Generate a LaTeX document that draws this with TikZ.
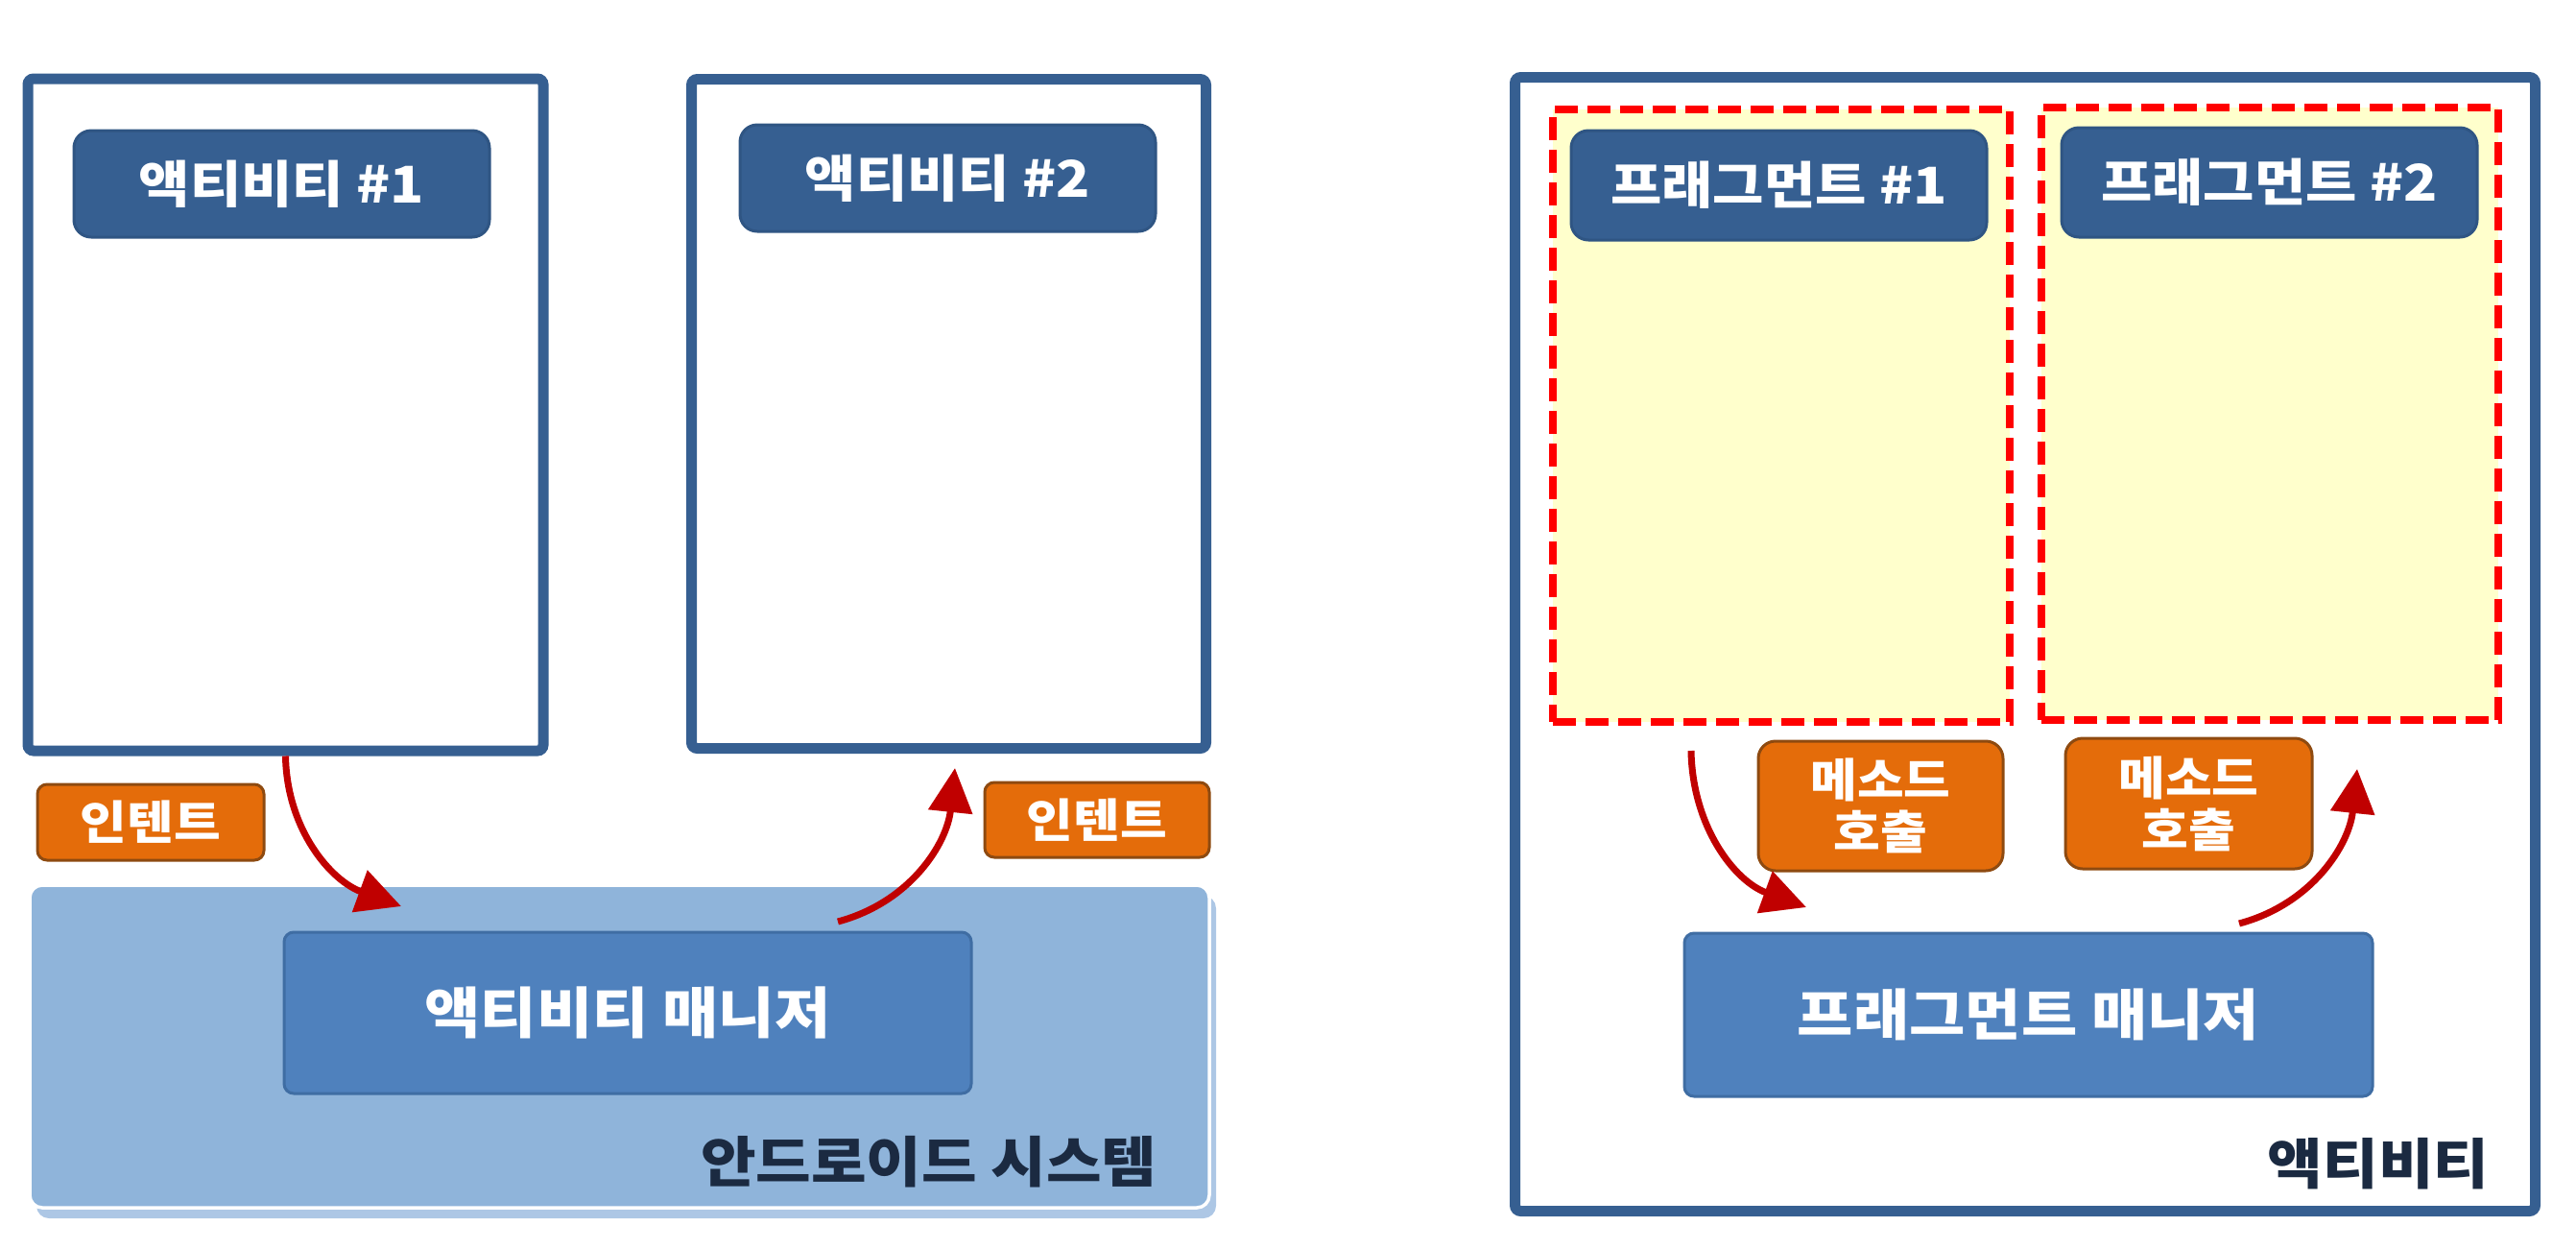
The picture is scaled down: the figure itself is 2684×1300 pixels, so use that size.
\documentclass[tikz,border=0pt]{standalone}
\usepackage{fontspec}
\newfontfamily\krfont[FakeStretch=1.1]{Noto Sans CJK KR}
\usetikzlibrary{arrows.meta,shadows}
\definecolor{boxblue}{HTML}{365F91}
\definecolor{labline}{HTML}{2F5583}
\definecolor{sysblue}{HTML}{8FB4DA}
\definecolor{sysshade}{HTML}{ADC7E5}
\definecolor{mgrblue}{HTML}{4F81BD}
\definecolor{mgrline}{HTML}{3F6DA3}
\definecolor{tagorange}{HTML}{E46C0A}
\definecolor{tagline}{HTML}{8E4A10}
\definecolor{arrred}{HTML}{C00000}
\definecolor{fragfill}{HTML}{FFFFCC}
\definecolor{navytext}{HTML}{1B2A41}

\begin{document}
\begin{tikzpicture}[x=0.1mm,y=-0.1mm,
  every node/.style={font=\krfont\bfseries},
  actbox/.style={draw=boxblue,line width=1.1mm,rounded corners=0.6mm,inner sep=0pt},
  namebox/.style={fill=boxblue,draw=labline,line width=0.3mm,rounded corners=1.8mm,text=white,
    minimum width=43.3mm,minimum height=11.1mm,font=\krfont\bfseries\fontsize{15pt}{18pt}\selectfont},
  fragbox/.style={fill=fragfill,draw=red,line width=0.8mm,dash pattern=on 2.4mm off 1mm,
    minimum width=47.6mm,minimum height=63.8mm,inner sep=0pt},
  mgrbox/.style={fill=mgrblue,draw=mgrline,line width=0.3mm,rounded corners=1mm,text=white,
    minimum width=71.6mm,minimum height=16.8mm,font=\krfont\bfseries\fontsize{16.4pt}{19pt}\selectfont},
  tagbox/.style={fill=tagorange,draw=tagline,line width=0.3mm,rounded corners=1mm,text=white,
    align=center,font=\krfont\bfseries\fontsize{13.7pt}{15.4pt}\selectfont},
  sysbox/.style={fill=sysblue,draw=white,line width=0.35mm,rounded corners=1.3mm,
    drop shadow={shadow xshift=0.7mm,shadow yshift=-1.1mm,fill=sysshade,opacity=1}},
  sysname/.style={text=navytext,anchor=east,inner sep=0pt,font=\krfont\bfseries\fontsize{16.2pt}{19pt}\selectfont},
  flow/.style={draw=arrred,line width=0.7mm,-{Triangle[length=4.6mm,width=4.5mm]}}]
\useasboundingbox (0,0) rectangle (2684,1300);

% left: activities and the android system
\node[sysbox,minimum width=122.9mm,minimum height=33.6mm] (sys) at (645.5,1090) {};
\node[sysname] (sysLabel) at (1206,1210) {안드로이드 시스템};
\node[mgrbox] (am) at (654,1055) {액티비티 매니저};
\node[actbox,minimum width=53.7mm,minimum height=70mm] (act1) at (297.5,432) {};
\node[actbox,minimum width=53.6mm,minimum height=69.7mm] (act2) at (988.5,431) {};
\node[namebox] (act1Name) at (293.5,191.5) {액티비티 \#1};
\node[namebox] (act2Name) at (987.5,185.5) {액티비티 \#2};
\node[tagbox,minimum width=23.6mm,minimum height=7.9mm] (intent1) at (157,856.5) {인텐트};
\node[tagbox,minimum width=23.4mm,minimum height=7.8mm] (intent2) at (1143,854) {인텐트};
\coordinate (amIn) at (418,944);
\coordinate (amOut) at (873,960);
\coordinate (act2In) at (995,800);
\draw[flow] (act1.south) to[out=-89,in=160] (amIn);
\draw[flow] (amOut) to[out=15,in=-96] (act2In);

% right: one activity holding two fragments
\node[actbox,minimum width=106.3mm,minimum height=118.1mm] (act3) at (2110,671) {};
\node[sysname] (act3Label) at (2594,1212) {액티비티};
\node[fragbox] (frag1) at (1856,433) {};
\node[fragbox] (frag2) at (2365,431) {};
\node[namebox,minimum height=11.4mm] (frag1Name) at (1853.5,193) {프래그먼트 \#1};
\node[namebox,minimum height=11.4mm] (frag2Name) at (2364.5,190) {프래그먼트 \#2};
\node[tagbox,minimum width=25.5mm,minimum height=13.5mm,rounded corners=1.8mm] (call1) at (1959.5,839.5) {메소드\\호출};
\node[tagbox,minimum width=25.7mm,minimum height=13.6mm,rounded corners=1.8mm] (call2) at (2280.5,837) {메소드\\호출};
\node[mgrbox,minimum width=71.7mm,minimum height=17mm] (fm) at (2113.5,1057) {프래그먼트 매니저};
\coordinate (frag1Out) at (1762,782);
\coordinate (fmIn) at (1882,945);
\coordinate (fmOut) at (2333,962);
\coordinate (frag2In) at (2456,801);
\draw[flow] (frag1Out) to[out=-89,in=160] (fmIn);
\draw[flow] (fmOut) to[out=15,in=-96] (frag2In);
\end{tikzpicture}
\end{document}
